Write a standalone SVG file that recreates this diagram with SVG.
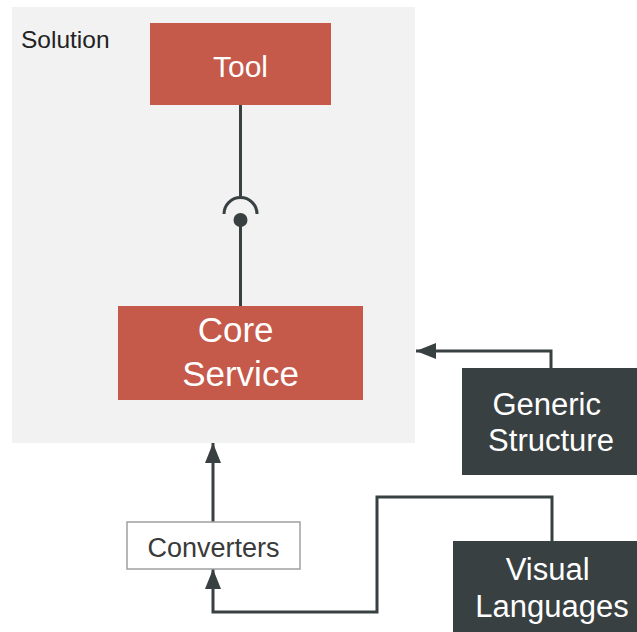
<svg xmlns="http://www.w3.org/2000/svg" width="637" height="632" viewBox="0 0 637 632">
  <style>
    .lbl { font-family: "Liberation Sans", Arial, sans-serif; }
    .red { fill: #C5594A; }
    .dark { fill: #394042; }
    .wt { fill: #FFFFFF; text-anchor: middle; }
    .wire { fill: none; stroke: #394042; stroke-width: 3; }
  </style>
  <defs>
    <marker id="arrow" viewBox="0 0 20 16" refX="20" refY="8" markerWidth="20" markerHeight="16" markerUnits="userSpaceOnUse" orient="auto">
      <path d="M0,0 L20,8 L0,16 Z" fill="#394042"/>
    </marker>
  </defs>

  <rect width="637" height="632" fill="#FFFFFF"/>

  <!-- container -->
  <g id="solution">
    <rect x="12" y="7" width="403" height="436" fill="#F2F2F2"/>
    <text class="lbl" x="21" y="48" font-size="24.5" fill="#222222">Solution</text>
  </g>

  <g id="connectors">
    <!-- required interface: Tool to socket -->
    <line class="wire" x1="240.5" y1="105" x2="240.5" y2="197"/>
    <path class="wire" d="M224,214 A16.5,16.5 0 0 1 257,214"/>
    <!-- provided interface: Core Service to ball -->
    <line class="wire" x1="240.5" y1="220" x2="240.5" y2="306"/>
    <circle cx="240.5" cy="220" r="7" fill="#394042"/>
    <!-- Generic Structure into the solution -->
    <polyline class="wire" points="551,368 551,351 416,351" marker-end="url(#arrow)"/>
    <!-- Converters into the solution -->
    <line class="wire" x1="213" y1="522" x2="213" y2="443" marker-end="url(#arrow)"/>
    <!-- Visual Languages into Converters -->
    <polyline class="wire" points="552,541 552,497 377,497 377,612 213,612 213,569" marker-end="url(#arrow)"/>
  </g>

  <g id="tool">
    <rect class="red" x="150" y="23" width="181" height="82"/>
    <text class="lbl wt" x="240.5" y="77" font-size="30">Tool</text>
  </g>

  <g id="core-service">
    <rect class="red" x="118" y="306" width="245" height="94"/>
    <text class="lbl wt" font-size="35">
      <tspan x="240.5" y="342">Core</tspan>
      <tspan x="240.5" y="386">Service</tspan>
    </text>
  </g>

  <g id="generic-structure">
    <rect class="dark" x="462" y="368" width="190" height="107"/>
    <text class="lbl wt" font-size="31">
      <tspan x="551" y="415">Generic</tspan>
      <tspan x="551" y="451">Structure</tspan>
    </text>
  </g>

  <g id="converters">
    <rect x="127" y="522" width="173" height="47" fill="#FFFFFF" stroke="#A0A0A0" stroke-width="1.5"/>
    <text class="lbl" x="213.5" y="557" font-size="27" fill="#3A3A3A" text-anchor="middle">Converters</text>
  </g>

  <g id="visual-languages">
    <rect class="dark" x="453" y="541" width="200" height="100"/>
    <text class="lbl wt" font-size="31">
      <tspan x="552" y="580">Visual</tspan>
      <tspan x="552" y="617">Languages</tspan>
    </text>
  </g>
</svg>
